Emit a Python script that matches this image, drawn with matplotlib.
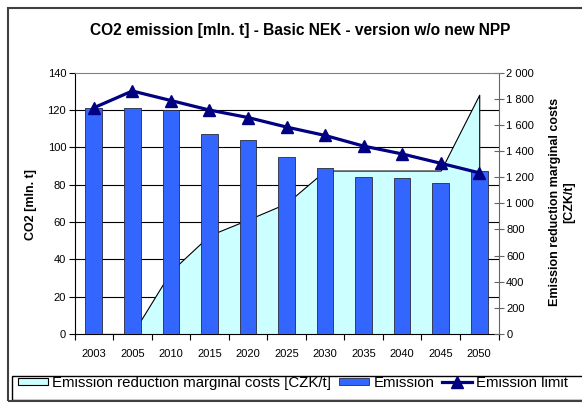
import matplotlib
matplotlib.use("Agg")
import matplotlib.pyplot as plt
from matplotlib.patches import Rectangle, Patch
from matplotlib.lines import Line2D

plt.rcParams["font.family"] = ["Liberation Sans", "DejaVu Sans"]

# Data
years = ["2003", "2005", "2010", "2015", "2020", "2025", "2030", "2035", "2040", "2045", "2050"]
emission = [120.8, 120.8, 119.8, 107.0, 104.0, 95.0, 88.8, 84.2, 83.7, 80.6, 87.3]
emission_limit = [121.1, 130.1, 125.0, 119.9, 115.9, 110.8, 106.3, 100.6, 96.4, 91.4, 86.3]
marginal_costs = [0, 0, 480, 755, 875, 1000, 1250, 1250, 1250, 1250, 1830]

left_ticks = list(range(0, 141, 20))
right_ticks = list(range(0, 2001, 200))

W, H = 582, 403
fig = plt.figure(figsize=(W / 100, H / 100), dpi=100)

x0, x1, y0, y1 = 74.5, 498.5, 72.5, 334.0
rect = [x0 / W, 1 - y1 / H, (x1 - x0) / W, (y1 - y0) / H]

x = list(range(len(years)))

# Base axes: left emission scale with horizontal grid
ax = fig.add_axes(rect)
ax.set_xlim(-0.5, len(years) - 0.5)
ax.set_ylim(0, 140)
ax.set_yticks(left_ticks)
ax.tick_params(axis="y", direction="out", length=4, width=0.8, pad=2, labelsize=8)
for v in left_ticks[1:-1]:
    ax.axhline(v, color="black", lw=0.8, zorder=0)
ax.spines["top"].set_visible(False)
ax.spines["right"].set_visible(False)
ax.spines["left"].set_color("black")
ax.spines["bottom"].set_color("black")

# Category boundaries as major ticks, names as minor ticks
ax.set_xticks([i - 0.5 for i in range(len(years) + 1)])
ax.set_xticklabels([])
ax.set_xticks(x, minor=True)
ax.set_xticklabels(years, minor=True)
ax.tick_params(axis="x", which="major", direction="out", length=4, width=0.8)
ax.tick_params(axis="x", which="minor", length=0, pad=11, labelsize=8)

# Marginal costs area on the right scale
ax2 = ax.twinx()
ax2.set_ylim(0, 2000)
ax2.set_yticks(right_ticks)
ax2.set_yticklabels([f"{v:,}".replace(",", " ") for v in right_ticks])
ax2.fill_between(x, marginal_costs, 0, facecolor="#CCFFFF", edgecolor="black", lw=0.8)
ax2.tick_params(axis="y", direction="inout", length=7, width=0.8, color="#666666", pad=2, labelsize=8)
for s in ["left", "bottom"]:
    ax2.spines[s].set_visible(False)
ax2.spines["right"].set_color("#666666")
ax2.spines["top"].set_color("#808080")
ax2.spines["top"].set_linewidth(0.8)

# Emission bars and limit line on top
ax3 = ax.twinx()
ax3.set_ylim(0, 140)
ax3.axis("off")
ax3.bar(x, emission, width=0.43, color="#3366FF", edgecolor="#2a2a40", lw=0.6)
ax3.plot(x, emission_limit, color="#000080", lw=2.3, marker="^", markersize=8)

# Titles and axis labels
fig.text(300 / W, 1 - 31 / H, "CO2 emission [mln. t] - Basic NEK - version w/o new NPP",
         ha="center", va="center", fontsize=11.2, fontweight="bold")
fig.text(31 / W, 1 - 204 / H, "CO2 [mln. t]", rotation=90, ha="center", va="center",
         fontsize=9, fontweight="bold")
fig.text(562 / W, 1 - 202 / H, "Emission reduction marginal costs\n[CZK/t]", rotation=90,
         ha="center", va="center", fontsize=9, fontweight="bold", multialignment="center",
         linespacing=1.3)

# Legend
handles = [
    Patch(facecolor="#CCFFFF", edgecolor="black", lw=0.8),
    Patch(facecolor="#3366FF", edgecolor="#2a2a40", lw=0.6),
    Line2D([], [], color="#000080", lw=2.3, marker="^", markersize=8),
]
labels = ["Emission reduction marginal costs [CZK/t]", "Emission", "Emission limit"]
fig.legend(handles, labels, loc="center left", bbox_to_anchor=(18 / W, 1 - 383 / H),
           ncol=3, frameon=False, fontsize=10.8, handlelength=2.0, handleheight=0.4,
           handletextpad=0.3, columnspacing=0.5, borderpad=0, borderaxespad=0)
fig.patches.append(Rectangle((12 / W, 1 - 400 / H), 600 / W, 24 / H, transform=fig.transFigure,
                             fill=False, edgecolor="black", lw=1.0))

# Chart frame
fig.patches.append(Rectangle((8 / W, 1 - 401 / H), 600 / W, 393 / H, transform=fig.transFigure,
                             fill=False, edgecolor="#404040", lw=1.5))

fig.savefig("out.png", dpi=100)
